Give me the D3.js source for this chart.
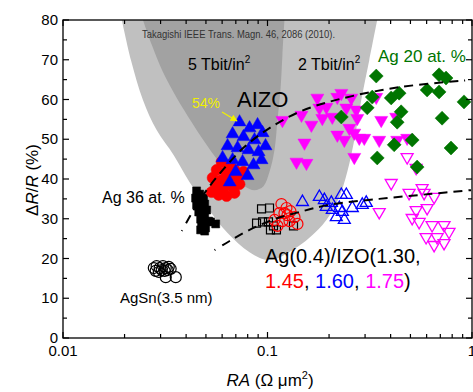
<!DOCTYPE html>
<html><head><meta charset="utf-8">
<script src="https://cdn.jsdelivr.net/npm/d3@7"></script>
<style>body{margin:0;background:#fff}svg{display:block}text{font-family:"Liberation Sans",Arial,sans-serif}</style>
</head><body><svg id="c" width="473" height="392"></svg>
<script>
// ---------- data ----------
const xTickValues = [0.01, 0.1, 1];
const xTickLabels = ["0.01", "0.1", "1"];
const yTickValues = [0, 10, 20, 30, 40, 50, 60, 70, 80];
const yTickLabels = ["0", "10", "20", "30", "40", "50", "60", "70", "80"];

// contour regions (RA, dR/R)
const region2Tbit = [[0.0194,80],[0.0215,69.9],[0.0246,59.9],[0.0287,52.3],[0.0348,46.0],[0.0416,39.2],[0.0510,32.7],[0.0638,26.4],[0.0817,21.6],[0.1023,19.6],[0.1324,22.1],[0.1603,25.2],[0.194,29.7],[0.2245,35.5],[0.2456,41.8],[0.2657,49.8],[0.2874,59.9],[0.3145,69.9],[0.344,80]];
const region5Tbit = [[0.0246,80],[0.0272,73.7],[0.0308,66.9],[0.0360,60.4],[0.0426,54.3],[0.0493,49.3],[0.0570,44.8],[0.0667,40.8],[0.0772,38.2],[0.0864,37.2],[0.0956,38.2],[0.1023,41.8],[0.1082,47.3],[0.1119,54.8],[0.1157,62.4],[0.1183,71.2],[0.1210,80]];

// fit guides
const fitAIZO = [[0.0381,26.9],[0.0426,31.4],[0.0504,37.2],[0.0617,42.8],[0.0772,48.1],[0.1023,52.8],[0.1433,56.9],[0.2171,59.9],[0.4404,63.1],[0.989,64.9]];
const fitIZO = [[0.0551,22.1],[0.0653,24.4],[0.0817,27.2],[0.1082,29.9],[0.1433,31.7],[0.2006,33.5],[0.3518,35.0],[0.617,36.2],[0.989,37.2]];

const agSn = [[0.0278,17.6],[0.0287,18.1],[0.0297,17.6],[0.0308,18.1],[0.0318,17.6],[0.0329,17.9],[0.0284,16.9],[0.0294,16.6],[0.0304,17.1],[0.0314,16.9],[0.0325,17.1],[0.0336,17.4],[0.0318,15.3],[0.0356,15.3]];
const ag36 = [[0.0450,37.0],[0.0466,36.2],[0.0445,35.2],[0.0466,34.7],[0.0487,35.2],[0.0450,33.5],[0.0471,33.0],[0.0493,33.7],[0.0461,31.7],[0.0482,31.2],[0.0504,32.2],[0.0471,29.9],[0.0493,30.2],[0.0515,29.4],[0.0476,28.2],[0.0498,27.7],[0.0527,29.2],[0.0558,28.7],[0.0471,27.2],[0.0493,26.9]];
const aizo145 = [[0.0596,44.3],[0.0653,43.5],[0.0564,42.3],[0.0624,41.8],[0.0690,42.3],[0.0539,40.3],[0.0590,39.7],[0.0645,40.3],[0.0714,40.5],[0.0763,41.8],[0.0558,38.0],[0.0610,37.7],[0.0667,38.2],[0.0730,38.7],[0.0577,36.0],[0.0631,35.7],[0.0690,36.5],[0.0533,36.7]];
const aizo160 = [[0.0730,54.3],[0.0817,52.8],[0.0894,53.6],[0.0675,51.3],[0.0763,50.6],[0.0864,49.8],[0.0946,51.6],[0.0638,48.3],[0.0714,47.8],[0.0808,47.3],[0.0904,46.8],[0.0978,48.3],[0.0603,45.3],[0.0675,44.8],[0.0755,44.3],[0.0854,43.5],[0.0935,44.8],[0.0698,41.8],[0.0799,40.8],[0.0653,39.2]];
const aizo175 = [[0.1183,54.8],[0.1466,56.1],[0.1516,49.1],[0.1639,53.6],[0.1753,60.4],[0.1793,57.9],[0.1854,55.3],[0.1940,58.1],[0.2075,55.6],[0.2195,60.6],[0.2195,51.1],[0.2296,61.6],[0.2429,57.9],[0.2512,52.8],[0.2569,60.4],[0.2717,57.4],[0.2748,55.3],[0.2810,50.3],[0.2657,51.6],[0.2973,50.3],[0.2657,45.5],[0.1386,44.3],[0.1550,44.0],[0.3402,60.6],[0.3598,54.8],[0.3518,49.8],[0.4306,49.8],[0.4816,50.3],[0.4258,55.6],[0.2375,49.8]];
const izo130 = [[0.0935,32.5],[0.1023,32.7],[0.0884,28.9],[0.0946,29.2],[0.1011,29.2],[0.1034,27.2],[0.1106,27.2],[0.1070,28.2],[0.1340,28.2]];
const izo145 = [[0.1170,33.7],[0.1238,32.7],[0.1295,31.9],[0.1144,31.4],[0.1252,30.9],[0.1355,30.4],[0.1082,29.7],[0.1183,29.4],[0.1281,29.4],[0.1401,28.7],[0.1119,28.2],[0.1210,31.4]];
const izo160 = [[0.1482,34.2],[0.1793,35.5],[0.1897,34.7],[0.2052,34.0],[0.2296,36.0],[0.2429,36.0],[0.2245,32.7],[0.2598,32.7],[0.3040,34.0],[0.2170,30.4],[0.2375,29.7],[0.1940,33.0],[0.2075,32.2],[0.2907,33.5],[0.2322,31.7]];
const izo175 = [[0.4026,39.0],[0.3518,31.7],[0.4816,45.5],[0.5332,42.8],[0.4925,36.5],[0.5703,37.7],[0.5832,36.5],[0.6526,35.5],[0.5332,32.2],[0.6033,32.7],[0.5098,30.2],[0.5514,29.2],[0.6381,28.4],[0.730,28.4],[0.772,26.7],[0.5964,25.4],[0.6526,23.4],[0.730,23.9],[0.675,25.4]];
const ag20 = [[0.3402,65.9],[0.3253,60.6],[0.4026,60.4],[0.4403,61.6],[0.3075,57.9],[0.2296,55.6],[0.4503,56.9],[0.4306,54.3],[0.3440,45.3],[0.4163,48.6],[0.5098,49.8],[0.5392,43.0],[0.6903,66.2],[0.7465,65.4],[0.6033,62.4],[0.6903,61.9],[0.714,55.3],[0.7897,47.8],[0.914,59.4]];

// ---------- layout ----------
const svg = d3.select("#c");
const L = 63, R = 472, T = 20, B = 338;
const x = d3.scaleLog().domain([0.01, 1]).range([L, R]);
const y = d3.scaleLinear().domain([0, 80]).range([B, T]);

svg.append("defs").append("clipPath").attr("id","clip")
  .append("rect").attr("x",L).attr("y",T).attr("width",R-L).attr("height",B-T);
const plot = svg.append("g").attr("clip-path","url(#clip)");

const area = d3.line().x(d=>x(d[0])).y(d=>y(d[1])).curve(d3.curveCatmullRom);
plot.append("path").attr("d", area(region2Tbit)+"Z").attr("fill","#c0c0c0");
plot.append("path").attr("d", area(region5Tbit)+"Z").attr("fill","#a2a2a2");

// annotation texts (behind marks)
svg.append("text").attr("x",142).attr("y",38).attr("font-size",10).attr("fill","#333")
  .attr("textLength",193).attr("lengthAdjust","spacingAndGlyphs")
  .text("Takagishi IEEE Trans. Magn. 46, 2086 (2010).");
function tbit(xp, label){
  const t = svg.append("text").attr("x",xp).attr("y",70).attr("font-size",16).attr("fill","#000");
  t.append("tspan").text(label);
  t.append("tspan").attr("font-size",10).attr("dy",-7).text("2");
}
tbit(188,"5 Tbit/in");
tbit(298,"2 Tbit/in");

// marker shapes
function triPath(s, up){
  const h = s*0.866;
  return up ? `M0,${-h*2/3}L${s/2},${h/3}L${-s/2},${h/3}Z` : `M0,${h*2/3}L${s/2},${-h/3}L${-s/2},${-h/3}Z`;
}
function sqPath(s){ return `M${-s/2},${-s/2}h${s}v${s}h${-s}Z`; }
function diaPath(s){ return `M0,${-s/2}L${s/2},0L0,${s/2}L${-s/2},0Z`; }
function circPath(r){ return `M${-r},0a${r},${r} 0 1,0 ${2*r},0a${r},${r} 0 1,0 ${-2*r},0Z`; }

function series(data, d, fill, stroke, sw){
  plot.append("g").selectAll("path").data(data).join("path")
    .attr("transform", p=>`translate(${x(p[0])},${y(p[1])})`)
    .attr("d", d).attr("fill", fill).attr("stroke", stroke).attr("stroke-width", sw||0);
}
series(agSn, circPath(5.5), "none", "#000", 1.2);
series(ag36, sqPath(8), "#000", "#000", 0.5);
series(aizo145, circPath(5.5), "#ff0000", "#ff0000", 0.5);
series(aizo160, triPath(13,true), "#0000ff", "#0000ff", 0.5);
series(izo130, sqPath(8), "none", "#000", 1.2);
series(izo145, circPath(5.5), "none", "#ff0000", 1.2);
series(izo160, triPath(12,true), "none", "#0000ff", 1.3);
series(izo175, triPath(12,false), "none", "#ff00ff", 1.3);
series(aizo175, triPath(13,false), "#ff00ff", "#ff00ff", 0.5);
series(ag20, diaPath(14), "#007500", "#007500", 0.5);

// dashed fits
const ln = d3.line().x(d=>x(d[0])).y(d=>y(d[1])).curve(d3.curveCatmullRom);
plot.append("path").attr("d", ln(fitAIZO)).attr("fill","none").attr("stroke","#000").attr("stroke-width",2).attr("stroke-dasharray","1,8,9,6,9,6,9,6,9,6,9,6,9,6,9,6,9,6,9,6,9,6,9,6,9,6,9,6,9,6,9,6,9,6,9,6,9,6,9,6,9,6,9,6,9,6");
plot.append("path").attr("d", ln(fitIZO)).attr("fill","none").attr("stroke","#000").attr("stroke-width",2).attr("stroke-dasharray","1,8,9,6,9,6,9,6,9,6,9,6,9,6,9,6,9,6,9,6,9,6,9,6,9,6,9,6,9,6,9,6,9,6,9,6,9,6,9,6,9,6,9,6,9,6");

// labels
svg.append("text").attr("x",237).attr("y",107).attr("font-size",22).text("AIZO");
svg.append("text").attr("x",192).attr("y",108).attr("font-size",14).attr("fill","#f0f000").text("54%");
svg.append("defs").append("marker").attr("id","ah").attr("viewBox","0 0 10 10").attr("refX",9).attr("refY",5)
  .attr("markerWidth",6).attr("markerHeight",6).attr("orient","auto")
  .append("path").attr("d","M0,0L10,5L0,10Z").attr("fill","#f0f000");
svg.append("line").attr("x1",222).attr("y1",112).attr("x2",237).attr("y2",121).attr("stroke","#f0f000").attr("stroke-width",1.2).attr("marker-end","url(#ah)");
svg.append("text").attr("x",378).attr("y",62).attr("font-size",17).attr("fill","#007500").text("Ag 20 at. %");
svg.append("text").attr("x",102).attr("y",203).attr("font-size",16).text("Ag 36 at. %");
svg.append("text").attr("x",120).attr("y",303).attr("font-size",15).text("AgSn(3.5 nm)");
svg.append("text").attr("x",265).attr("y",263).attr("font-size",20).text("Ag(0.4)/IZO(1.30,");
const l2 = svg.append("text").attr("x",265).attr("y",288).attr("font-size",20);
[["1.45","#ff0000"],[", ","#000"],["1.60","#0000ff"],[", ","#000"],["1.75","#ff00ff"],[")","#000"]]
  .forEach(([t,c])=>l2.append("tspan").attr("fill",c).text(t));

// axes frame
svg.append("rect").attr("x",L).attr("y",T).attr("width",R-L).attr("height",B-T).attr("fill","none").attr("stroke","#000").attr("stroke-width",1.3);

const xMinor = [];
[0.01,0.1].forEach(b=>{for(let k=2;k<=9;k++) xMinor.push(b*k);});
const yMinor = d3.range(5,80,10);

const ax = svg.append("g");
ax.call(g=>{
  g.selectAll(".xb").data(xTickValues).join("line").attr("x1",d=>x(d)).attr("x2",d=>x(d)).attr("y1",B).attr("y2",B-6);
  g.selectAll(".xt").data(xTickValues).join("line").attr("x1",d=>x(d)).attr("x2",d=>x(d)).attr("y1",T).attr("y2",T+6);
  g.selectAll(".xmb").data(xMinor).join("line").attr("x1",d=>x(d)).attr("x2",d=>x(d)).attr("y1",B).attr("y2",B-4);
  g.selectAll(".xmt").data(xMinor).join("line").attr("x1",d=>x(d)).attr("x2",d=>x(d)).attr("y1",T).attr("y2",T+4);
});
ax.selectAll("line").attr("stroke","#000").attr("stroke-width",1.2);

const ay = svg.append("g");
const yl = (vals, len, side) => ay.append("g").selectAll("line").data(vals).join("line")
  .attr("x1", side==="L"?L:R).attr("x2", side==="L"?L+len:R-len)
  .attr("y1", d=>y(d)).attr("y2", d=>y(d)).attr("stroke","#000").attr("stroke-width",1.2);
yl(yTickValues,6,"L"); yl(yTickValues,6,"R"); yl(yMinor,4,"L"); yl(yMinor,4,"R");

svg.append("g").selectAll("text").data(yTickValues).join("text")
  .attr("x",L-5).attr("y",d=>y(d)+5).attr("text-anchor","end").attr("font-size",15)
  .text((d,i)=>yTickLabels[i]);
svg.append("g").selectAll("text").data(xTickValues).join("text")
  .attr("x",d=>x(d)).attr("y",B+18).attr("text-anchor","middle").attr("font-size",15)
  .text((d,i)=>xTickLabels[i]);

// axis titles
const xt = svg.append("text").attr("x",270).attr("y",386).attr("text-anchor","middle").attr("font-size",17);
xt.append("tspan").attr("font-style","italic").text("RA");
xt.append("tspan").text(" (Ω μm");
xt.append("tspan").attr("font-size",11).attr("dy",-7).text("2");
xt.append("tspan").attr("dy",7).text(")");

const yt = svg.append("text").attr("transform","translate(38,180) rotate(-90)").attr("text-anchor","middle").attr("font-size",17);
yt.append("tspan").text("Δ");
yt.append("tspan").attr("font-style","italic").text("R");
yt.append("tspan").text("/");
yt.append("tspan").attr("font-style","italic").text("R");
yt.append("tspan").text(" (%)");
</script></body></html>
